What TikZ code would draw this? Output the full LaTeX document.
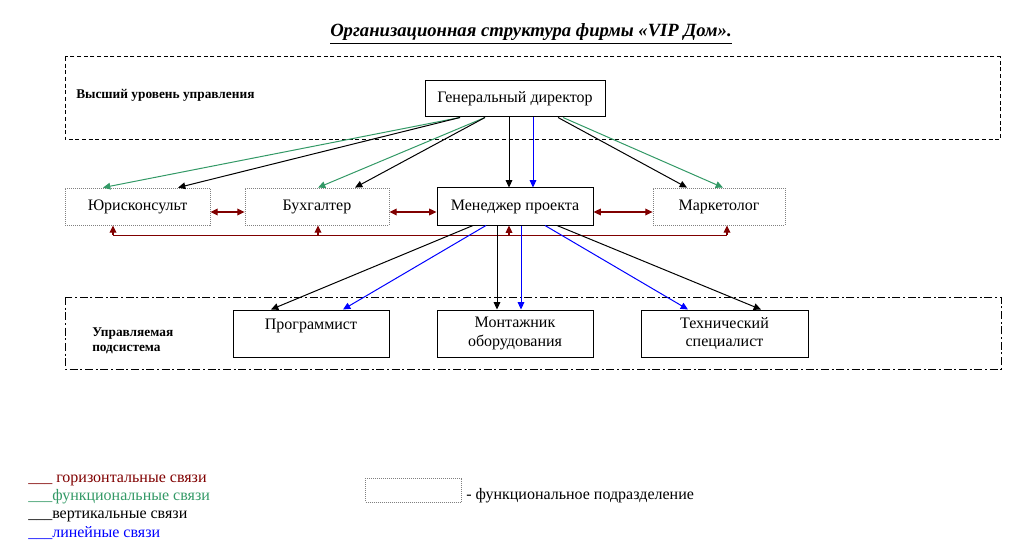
\documentclass[tikz,border=0pt]{standalone}
\usepackage{fontspec}
\setmainfont{Liberation Serif}
\usetikzlibrary{arrows.meta,calc}

\definecolor{horcol}{HTML}{800000}
\definecolor{funcol}{HTML}{339966}
\definecolor{lincol}{HTML}{0000FF}

\tikzset{
  unitbox/.style={draw,line width=0.75pt,minimum height=27.75pt,inner sep=1pt,
    font=\fontsize{12}{13.8}\selectfont,align=center},
  funcbox/.style={unitbox,draw=gray,line width=0.6pt,dash pattern=on 0.75pt off 0.75pt},
  lowbox/.style={unitbox,minimum height=35.25pt,minimum width=117pt},
  levtext/.style={font=\fontsize{10}{11.5}\selectfont\bfseries,align=left,inner sep=0pt},
  legtext/.style={font=\fontsize{12}{13.8}\selectfont,inner sep=0pt,anchor=base west},
  horline/.style={horcol,line width=0.9pt},
  funcline/.style={funcol,line width=0.75pt},
  vertline/.style={black,line width=0.75pt},
  linline/.style={lincol,line width=0.75pt}
}

\begin{document}
\begin{tikzpicture}[x=0.75pt,y=-0.75pt,>={Triangle[length=5.5pt,width=5pt]}]
  \useasboundingbox (0,0) rectangle (1010,556);

  \node[font=\fontsize{14}{16}\selectfont\bfseries\itshape,inner sep=0pt,anchor=base] (title) at (531,37)
    {\underline{Организационная структура фирмы «VIP Дом».}};

  % levels
  \draw[line width=0.75pt,dash pattern=on 3pt off 2pt] (65,57) rectangle (1000,140);
  \draw[line width=0.75pt,dash pattern=on 6pt off 2pt on 1.5pt off 2pt] (65,297) rectangle (1001,369);
  \node[levtext,anchor=west] (toplabel) at (76,95) {Высший уровень управления};
  \node[levtext,anchor=west] (botlabel) at (92,341) {Управляемая\\подсистема};

  % units
  \node[unitbox,minimum width=135pt,minimum height=27pt] (gd) at (515,99) {Генеральный директор};
  \node[funcbox,minimum width=108.75pt] (jur) at (137.5,206.5) {Юрисконсульт};
  \node[funcbox,minimum width=108pt] (buh) at (317,206.5) {Бухгалтер};
  \node[unitbox,minimum width=117pt] (men) at (515,206.5) {Менеджер проекта};
  \node[funcbox,minimum width=99pt] (mark) at (719,206.5) {Маркетолог};
  \node[lowbox] (prog) at (311,333.5) {Программист\\\phantom{Х}};
  \node[lowbox] (mont) at (515,333.5) {Монтажник\\оборудования};
  \node[lowbox,minimum width=125.25pt] (tech) at (724.5,333.5) {Технический\\специалист};

  % director
  \draw[funcline,->] ($(gd.south)+(-55,0)$) -- ($(jur.north)+(-34.5,0)$);
  \draw[vertline,->] ($(gd.south)+(-55,0)$) -- ($(jur.north)+(40.5,0)$);
  \draw[funcline,->] ($(gd.south)+(-30,0)$) -- ($(buh.north)+(1,0)$);
  \draw[vertline,->] ($(gd.south)+(-30,0)$) -- ($(buh.north)+(38,0)$);
  \draw[vertline,->] ($(gd.south)+(-6,0)$) -- ($(men.north)+(-6,0)$);
  \draw[linline,->] ($(gd.south)+(18,0)$) -- ($(men.north)+(18,0)$);
  \draw[vertline,->] ($(gd.south)+(43,0)$) -- ($(mark.north)+(-32,0)$);
  \draw[funcline,->] ($(gd.south)+(48,0)$) -- ($(mark.north)+(4,0)$);

  % horizontal
  \draw[horline,<->] ($(jur.east)+(0,5.5)$) -- ($(buh.west)+(0,5.5)$);
  \draw[horline,<->] ($(buh.east)+(0,5.5)$) -- ($(men.west)+(0,5.5)$);
  \draw[horline,<->] ($(men.east)+(0,5.5)$) -- ($(mark.west)+(0,5.5)$);
  \coordinate (busjur) at ($(jur.south)+(-24.5,10)$);
  \coordinate (busbuh) at ($(buh.south)+(1,10)$);
  \coordinate (busmen) at ($(men.south)+(-6,10)$);
  \coordinate (busmark) at ($(mark.south)+(8,10)$);
  \draw[horline] (busjur) -- (busmark);
  \draw[horline,->] (busjur) -- (busjur |- jur.south);
  \draw[horline,->] (busbuh) -- (busbuh |- buh.south);
  \draw[horline,->] (busmen) -- (busmen |- men.south);
  \draw[horline,->] (busmark) -- (busmark |- mark.south);

  % manager
  \draw[vertline,->] ($(men.south)+(-42,0)$) -- ($(prog.north)+(-40,0)$);
  \draw[linline,->] ($(men.south)+(-29,0)$) -- ($(prog.north)+(32,0)$);
  \draw[vertline,->] ($(men.south)+(-18,0)$) -- ($(mont.north)+(-18,0)$);
  \draw[linline,->] ($(men.south)+(6,0)$) -- ($(mont.north)+(6,0)$);
  \draw[linline,->] ($(men.south)+(30,0)$) -- ($(tech.north)+(-36.5,0)$);
  \draw[vertline,->] ($(men.south)+(42,0)$) -- ($(tech.north)+(36.5,0)$);

  % legend
  \node[legtext,text=horcol] (leghor) at (28,482) {\_\_\_ горизонтальные связи};
  \node[legtext,text=funcol] (legfun) at (28,500) {\_\_\_функциональные связи};
  \node[legtext] (legvert) at (28,518) {\_\_\_вертикальные связи};
  \node[legtext,text=lincol] (leglin) at (28,537) {\_\_\_линейные связи};
  \node[funcbox,minimum width=72pt,minimum height=18pt] (legbox) at (413.5,490) {};
  \node[legtext] (legboxtext) at (466,499) {- функциональное подразделение};
\end{tikzpicture}
\end{document}
